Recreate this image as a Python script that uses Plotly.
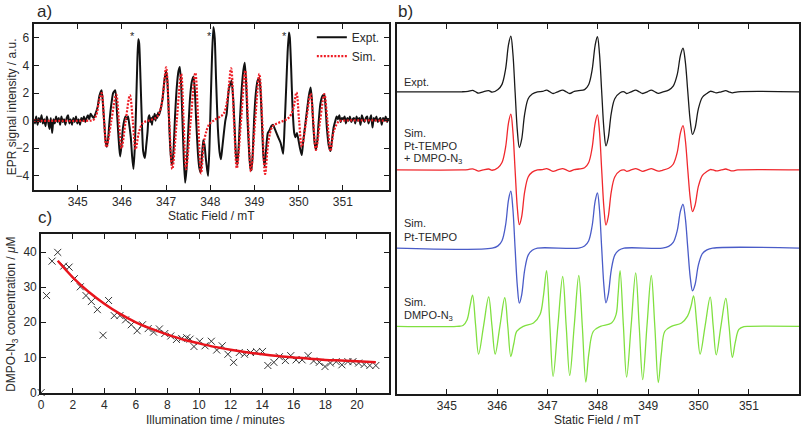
import plotly.graph_objects as go

# ---------------- Panel a: EPR spectrum, experiment vs simulation ----------------
a_expt_field = [
    344.00, 344.03, 344.06, 344.09, 344.12, 344.15, 344.18, 344.21, 344.24, 344.27,
    344.30, 344.33, 344.36, 344.39, 344.42, 344.45, 344.48, 344.51, 344.54, 344.57,
    344.60, 344.63, 344.66, 344.69, 344.72, 344.75, 344.78, 344.81, 344.84, 344.87,
    344.90, 344.93, 344.96, 344.99, 345.02, 345.05, 345.08, 345.11, 345.14, 345.17,
    345.20, 345.23, 345.26, 345.29,
    345.33, 345.36, 345.40, 345.45, 345.49, 345.54, 345.57, 345.60, 345.63, 345.66,
    345.69, 345.72, 345.76, 345.80, 345.85, 345.88, 345.91, 345.94, 345.96, 345.99,
    346.02, 346.05, 346.08, 346.11, 346.14, 346.17, 346.20, 346.23, 346.26, 346.29,
    346.32, 346.35, 346.37, 346.39, 346.42, 346.45, 346.48, 346.52, 346.55, 346.58,
    346.60, 346.62, 346.64, 346.66, 346.68, 346.70, 346.72, 346.74, 346.76, 346.78,
    346.80, 346.82, 346.84, 346.88, 346.92, 346.96, 347.00, 347.03, 347.06, 347.09,
    347.12, 347.14, 347.17, 347.20, 347.24, 347.28, 347.31, 347.34, 347.37, 347.40,
    347.43, 347.46, 347.50, 347.54, 347.58, 347.62, 347.65, 347.68, 347.72, 347.75,
    347.78, 347.81, 347.84, 347.87, 347.90, 347.93, 347.95, 347.98, 348.01, 348.04,
    348.07, 348.10, 348.13, 348.17, 348.21, 348.24, 348.27, 348.31, 348.34, 348.37,
    348.42, 348.48, 348.52, 348.55, 348.58, 348.61, 348.64, 348.67, 348.71, 348.75,
    348.78, 348.81, 348.84, 348.88, 348.91, 348.93, 348.96, 348.99, 349.03, 349.07,
    349.11, 349.14, 349.17, 349.20, 349.23, 349.26, 349.30, 349.34, 349.38, 349.42,
    349.46, 349.51, 349.55, 349.59, 349.62, 349.65, 349.68, 349.72, 349.75, 349.78,
    349.80, 349.83, 349.86, 349.90, 349.93, 349.96, 349.99, 350.03, 350.07, 350.10,
    350.13, 350.16, 350.19, 350.23, 350.27, 350.30, 350.33, 350.36, 350.39, 350.42,
    350.45, 350.49, 350.54, 350.58, 350.61, 350.64, 350.68, 350.72, 350.75, 350.79,
    350.83,
    350.86, 350.89, 350.92, 350.95, 350.98, 351.01, 351.04, 351.07, 351.10, 351.13,
    351.16, 351.19, 351.22, 351.25, 351.28, 351.31, 351.34, 351.37, 351.40, 351.43,
    351.46, 351.49, 351.52, 351.55, 351.58, 351.61, 351.64, 351.67, 351.70, 351.73,
    351.76, 351.79, 351.82, 351.85, 351.88, 351.91, 351.94, 351.97, 352.00, 352.03,
]
a_expt_signal = [
    0.1, -0.2, 0.3, -0.3, 0.2, -0.1, 0.4, -0.2, 0.1, -0.4,
    0.3, -0.1, -0.6, 0.2, -0.9, 0.1, -0.2, 0.3, -0.1, 0.2,
    -0.3, 0.3, -0.1, 0.1, -0.3, 0.2, 0.4, -0.2, 0.1, -0.3,
    0.2, -0.1, 0.3, -0.2, 0.1, -0.3, 0.2, 0.0, 0.3, -0.1,
    0.2, 0.4, 0.1, 0.5,
    0.3, 0.2, 0.5, 1.0, 1.8, 2.2, 1.2, -0.2, -1.5, -1.9,
    -1.2, 0.0, 1.2, 2.0, 2.2, 1.0, -0.6, -2.0, -2.6, -1.8,
    -0.6, 0.0, 0.3, 0.1, 0.3, -0.4, -1.2, -2.6, -3.5, -2.0,
    1.0, 4.5, 5.9, 5.6, 3.0, 0.0, -2.2, -2.7, -1.8, -0.8,
    0.2, 0.4, -0.1, 0.2, -0.3, 0.3, 0.1, 0.5, 0.0, 0.4,
    0.2, 0.6, 0.4, 0.9, 1.6, 2.9, 3.6, 2.8, 0.5, -1.8,
    -3.0, -3.2, -2.0, 0.2, 2.4, 3.6, 3.9, 2.6, 0.0, -2.8,
    -4.5, -3.6, -0.8, 1.6, 2.8, 3.2, 2.2, 0.0, -2.4, -3.4,
    -3.75, -2.6, -1.4, -1.8, -2.8, -3.6, -4.0, -2.0, 1.5, 4.8,
    6.8, 6.0, 3.0, -0.5, -2.3, -2.8, -2.0, -0.8, 0.0, 0.5,
    2.3, 2.9, 1.5, -0.5, -2.5, -3.2, -2.0, 0.0, 2.3, 3.7,
    4.2, 2.8, 0.2, -2.4, -3.5, -3.6, -2.4, 0.0, 2.0, 2.9,
    3.1, 2.0, -0.3, -2.5, -3.3, -2.2, -0.9, -0.7, -0.4, -0.3,
    -0.6, -1.0, -1.3, -1.6, -2.0, -2.4, -0.5, 2.6, 5.0, 6.4,
    6.0, 3.8, 1.0, -0.9, -1.2, -0.9, -1.3, -2.0, -2.5, -1.6,
    -0.8, 0.0, 0.8, 1.8, 2.4, 1.5, -0.3, -1.6, -2.1, -1.5,
    -0.2, 1.2, 1.8, 1.9, 0.9, -0.6, -1.8, -2.2, -1.5, -0.5,
    0.0,
    0.3, 0.1, 0.4, -0.1, 0.2, 0.1, 0.3, -0.2, 0.2, 0.0,
    0.3, -0.1, 0.1, 0.2, -0.2, 0.3, 0.0, 0.2, -0.3, 0.4,
    0.1, -0.1, 0.2, 0.3, -0.2, 0.1, 0.4, -0.5, 0.2, 0.0,
    0.3, -0.1, 0.1, 0.2, -0.3, 0.2, 0.0, 0.3, -0.1, 0.2,
]

# simulation: peak / zero-crossing / trough
a_sim_field = [
    344.00, 345.25, 345.35, 345.42, 345.48, 345.54, 345.595, 345.65, 345.76, 345.87,
    345.93, 345.99, 346.085, 346.18, 346.245, 346.31, 346.38, 346.47, 346.60, 346.72,
    346.80, 346.88, 346.94, 347.00, 347.07, 347.14, 347.24, 347.34, 347.395, 347.45,
    347.555, 347.66, 347.725, 347.79, 347.87, 347.98, 348.10, 348.20, 348.30, 348.38,
    348.47, 348.535, 348.60, 348.695, 348.79, 348.855, 348.92, 349.015, 349.11, 349.175,
    349.24, 349.32, 349.41, 349.55, 349.70, 349.80, 349.88, 349.95, 350.01, 350.07,
    350.17, 350.27, 350.33, 350.39, 350.485, 350.58, 350.65, 350.72, 350.80, 350.91,
    351.00, 352.05,
]
a_sim_signal = [
    0.0, 0.0, 0.05, 0.4, 1.4, 2.0, 0.0, -1.92, 0.0, 1.89,
    0.0, -2.01, 0.0, 1.85, 0.0, -2.08, -0.9, -0.18, 0.0, 0.12,
    0.3, 0.9, 2.2, 3.87, 0.0, -3.51, 0.0, 3.39, 0.0, -3.51,
    0.0, 3.46, 0.0, -3.82, -1.3, -0.25, 0.05, 0.25, 0.5, 1.4,
    3.8, 0.0, -3.44, 0.0, 3.63, 0.0, -3.68, 0.0, 3.39, 0.0,
    -3.87, -1.4, -0.42, -0.15, 0.05, 0.3, 0.9, 2.04, 0.0, -1.89,
    0.0, 1.96, 0.0, -2.13, 0.0, 1.92, 0.0, -2.2, -0.7, -0.05,
    0.0, 0.0,
]

a_star_field = [346.25, 347.98, 349.67]
a_star_signal = [6.15, 6.15, 6.15]
a_xticks = [345, 346, 347, 348, 349, 350, 351]
a_yticks = [-4, -2, 0, 2, 4, 6]

# ---------------- Panel b: stacked spectra ----------------
b_names = ["Expt.", "Sim. Pt-TEMPO + DMPO-N3", "Sim. Pt-TEMPO", "Sim. DMPO-N3"]
b_baselines = [0, -10, -20, -30]

b_expt_field = [
    344.00, 345.30, 345.42, 345.51, 345.57, 345.63, 345.72, 345.83,
    345.90, 346.015, 346.095, 346.165, 346.225, 346.27, 346.31, 346.355, 346.40, 346.44,
    346.485, 346.545, 346.615, 346.695, 346.80,
    346.90, 346.98, 347.045, 347.11, 347.20, 347.30, 347.37, 347.44, 347.53,
    347.62, 347.735, 347.815, 347.885, 347.945, 347.99, 348.03, 348.075, 348.12, 348.16,
    348.205, 348.265, 348.335, 348.44, 348.52, 348.57, 348.66, 348.75, 348.82, 348.89,
    348.98, 349.06, 349.13, 349.20,
    349.28, 349.405, 349.495, 349.575, 349.64, 349.69, 349.735, 349.785, 349.835, 349.88,
    349.93, 349.995, 350.075, 350.165, 350.23, 350.29, 350.35, 350.45, 350.54, 350.60,
    350.67, 350.78, 352.00,
]
b_expt_signal = [
    0.0, 0.0, 0.05, 0.18, 0.0, -0.18, 0.0, 0.15,
    -0.05, 0.29, 0.95, 2.85, 6.05, 7.13, 5.0, 0.0, -5.0, -7.13,
    -6.1, -2.85, -0.9, -0.28, 0.0,
    0.05, 0.22, 0.0, -0.22, 0.0, 0.22, 0.0, -0.22, 0.05,
    0.15, 0.28, 0.9, 2.8, 5.95, 7.04, 4.95, 0.0, -4.85, -6.92,
    -5.9, -2.75, -0.9, -0.12, 0.0, -0.22, 0.0, 0.22, 0.0, -0.22,
    0.0, 0.22, 0.0, -0.2,
    -0.05, 0.22, 0.72, 2.2, 4.7, 5.57, 3.9, 0.0, -3.8, -5.46,
    -4.64, -2.18, -0.7, -0.22, 0.06, 0.0, -0.14, 0.0, 0.14, 0.0,
    -0.14, 0.0, 0.0,
]

b_sum_field = list(b_expt_field)
b_sum_signal = [
    0.0, 0.0, 0.04, 0.14, 0.0, -0.14, 0.0, 0.12,
    -0.04, 0.29, 0.95, 2.85, 6.05, 7.13, 5.0, 0.0, -4.9, -7.0,
    -6.0, -2.8, -0.9, -0.28, 0.0,
    0.04, 0.17, 0.0, -0.17, 0.0, 0.17, 0.0, -0.17, 0.04,
    0.12, 0.28, 0.92, 2.83, 6.0, 7.04, 5.0, 0.0, -4.9, -7.04,
    -6.0, -2.8, -0.9, -0.1, 0.0, -0.17, 0.0, 0.17, 0.0, -0.17,
    0.0, 0.17, 0.0, -0.16,
    -0.04, 0.22, 0.73, 2.24, 4.77, 5.66, 3.9, 0.0, -3.7, -5.32,
    -4.5, -2.1, -0.68, -0.2, 0.05, 0.0, -0.12, 0.0, 0.12, 0.0,
    -0.12, 0.0, 0.0,
]

b_tempo_field = [
    344.00, 345.90, 346.015, 346.095, 346.165, 346.225, 346.27, 346.31, 346.355, 346.40,
    346.44, 346.485, 346.545, 346.615, 346.695, 346.80,
    347.62, 347.735, 347.815, 347.885, 347.945, 347.99, 348.03, 348.075, 348.12, 348.16,
    348.205, 348.265, 348.335, 348.415, 348.52,
    349.28, 349.405, 349.495, 349.575, 349.64, 349.69, 349.735, 349.785, 349.835, 349.88,
    349.93, 349.995, 350.075, 350.165, 350.28, 352.00,
]
b_tempo_signal = [
    0.0, 0.0, 0.29, 0.95, 2.9, 6.2, 7.3, 5.1, 0.0, -4.9,
    -7.04, -6.0, -2.8, -0.9, -0.28, 0.0,
    0.0, 0.28, 0.92, 2.83, 6.0, 7.08, 5.0, 0.0, -4.9, -7.0,
    -5.95, -2.8, -0.9, -0.28, 0.0,
    0.0, 0.22, 0.73, 2.24, 4.77, 5.61, 3.9, 0.0, -3.8, -5.46,
    -4.64, -2.18, -0.7, -0.22, 0.0, 0.0,
]

b_dmpo_field = [
    344.00, 345.20, 345.32, 345.40, 345.46, 345.51, 345.57, 345.63, 345.73, 345.83,
    345.895, 345.96, 346.055, 346.15, 346.21, 346.27, 346.33, 346.39, 346.52, 346.72,
    346.85, 346.92, 346.98, 347.045, 347.11, 347.205, 347.30, 347.37, 347.44, 347.53,
    347.62, 347.69, 347.76, 347.82, 347.91, 348.05, 348.27, 348.36, 348.40, 348.44,
    348.505, 348.57, 348.66, 348.75, 348.82, 348.89, 348.975, 349.06, 349.13, 349.20,
    349.26, 349.33, 349.46, 349.66, 349.78, 349.85, 349.90, 349.965, 350.03, 350.13,
    350.23, 350.29, 350.35, 350.445, 350.54, 350.605, 350.67, 350.73, 350.80, 350.90,
    351.00, 352.00,
]
b_dmpo_signal = [
    0.0, 0.0, 0.1, 0.8, 2.6, 3.98, 0.2, -3.56, 0.1, 3.77,
    0.1, -3.56, 0.1, 3.65, 0.0, -3.86, -2.2, -0.63, 0.0, 0.42,
    1.5, 4.0, 7.13, 0.2, -6.41, 0.1, 6.37, 0.0, -6.29, 0.1,
    6.5, 0.0, -7.13, -3.5, -0.63, 0.0, 0.42, 1.5, 4.0, 7.13,
    0.2, -6.5, 0.1, 6.83, 0.0, -6.83, 0.1, 6.5, 0.0, -7.2,
    -3.5, -0.63, 0.0, 0.42, 1.3, 2.6, 3.9, 0.2, -3.56, 0.1,
    3.73, 0.0, -3.65, 0.1, 3.56, 0.0, -3.98, -2.0, -0.4, -0.05,
    0.0, 0.0,
]
b_xticks = [345, 346, 347, 348, 349, 350, 351]

# ---------------- Panel c: concentration decay ----------------
c_time = [
    0.0, 0.34, 0.69, 1.05, 1.43, 1.77, 2.10, 2.48, 2.84, 3.18,
    3.56, 3.92, 4.27, 4.63, 4.99, 5.35, 5.71, 6.08, 6.42, 6.78,
    7.12, 7.49, 7.83, 8.21, 8.57, 8.90, 9.22, 9.43, 9.68, 10.04,
    10.38, 10.78, 11.12, 11.47, 11.83, 12.19, 12.55, 12.88, 13.26, 13.64,
    14.02, 14.36, 14.74, 15.09, 15.47, 15.81, 16.15, 16.53, 16.91, 17.26,
    17.62, 17.98, 18.32, 18.69, 19.05, 19.43, 19.75, 20.11, 20.46, 20.82,
    21.20,
]
c_conc = [
    0.0, 27.6, 37.4, 39.9, 36.0, 35.7, 32.4, 30.1, 27.6, 25.9,
    23.6, 16.3, 26.2, 21.9, 21.9, 20.7, 19.3, 17.6, 19.3, 18.2,
    17.2, 18.1, 16.8, 16.1, 15.1, 15.4, 15.6, 15.2, 13.1, 14.6,
    13.3, 14.6, 12.1, 13.3, 10.9, 8.6, 11.4, 10.9, 11.4, 11.6,
    11.7, 7.7, 8.6, 10.2, 9.1, 10.5, 9.3, 9.3, 10.5, 9.0,
    8.6, 7.4, 8.4, 8.8, 7.9, 8.8, 8.8, 8.4, 8.0, 7.7,
    7.7,
]
c_fit_time = [1.05, 2, 3, 4, 5, 6, 7, 8, 9, 10, 11, 12, 13, 14, 15, 16, 17, 18, 19, 20, 21.2]
c_fit_conc = [37.5, 32.8, 28.7, 25.3, 22.4, 20.0, 18.1, 16.5, 15.1, 14.0, 13.0, 12.2, 11.5,
              10.9, 10.4, 10.0, 9.6, 9.3, 9.1, 8.9, 8.6]
c_xticks = [0, 2, 4, 6, 8, 10, 12, 14, 16, 18, 20]
c_yticks = [0, 10, 20, 30, 40]

# ---------------- Styling ----------------
FONT = "Liberation Sans, Arial, sans-serif"
FRAME = "#1a1a1a"
TXT = "#2a2a2a"
W, H = 803, 433

def px_x(p):
    return p / W

def px_y(p):
    return 1 - p / H

def axis_style(**kw):
    d = dict(showline=True, linecolor=FRAME, linewidth=2, mirror="ticks",
             ticks="inside", ticklen=5, tickwidth=1, tickcolor=FRAME,
             showgrid=False, zeroline=False,
             tickfont=dict(family=FONT, size=12, color=TXT))
    d.update(kw)
    return d

fig = go.Figure()

# panel a
fig.add_trace(go.Scatter(x=a_expt_field, y=a_expt_signal, mode="lines", name="Expt.",
                         line=dict(color="#111111", width=2, shape="spline", smoothing=0.5),
                         xaxis="x", yaxis="y"))
fig.add_trace(go.Scatter(x=a_sim_field, y=a_sim_signal, mode="lines", name="Sim.",
                         line=dict(color="#ee1c24", width=2.2, dash="2px,1.5px",
                                   shape="spline", smoothing=1),
                         xaxis="x", yaxis="y"))

# panel b
b_colors = ["#1a1a1a", "#f0282d", "#4a5cc8", "#80e040"]
b_series = [(b_expt_field, b_expt_signal), (b_sum_field, b_sum_signal),
            (b_tempo_field, b_tempo_signal), (b_dmpo_field, b_dmpo_signal)]
for (fx, fy), base, col, nm in zip(b_series, b_baselines, b_colors, b_names):
    fig.add_trace(go.Scatter(x=fx, y=[v + base for v in fy], mode="lines", name=nm,
                             line=dict(color=col, width=1.3, shape="spline", smoothing=1),
                             showlegend=False, xaxis="x2", yaxis="y2"))

# panel c
fig.add_trace(go.Scatter(x=c_time, y=c_conc, mode="markers", showlegend=False,
                         marker=dict(symbol="x-thin", size=7, color="#333",
                                     line=dict(width=1, color="#333")),
                         cliponaxis=False, xaxis="x3", yaxis="y3"))
fig.add_trace(go.Scatter(x=c_fit_time, y=c_fit_conc, mode="lines", showlegend=False,
                         line=dict(color="#e8141c", width=2.5, shape="spline"),
                         xaxis="x3", yaxis="y3"))

fig.update_layout(
    width=W, height=H, margin=dict(l=0, r=0, t=0, b=0),
    paper_bgcolor="white", plot_bgcolor="white",
    font=dict(family=FONT, color=TXT),
    xaxis=axis_style(domain=[px_x(30.7), px_x(387.7)], range=[344, 352.05],
                     tickvals=a_xticks, anchor="y", ticklabelstandoff=0),
    yaxis=axis_style(domain=[px_y(192.7), px_y(24)], range=[-5.0, 7.04],
                     tickvals=a_yticks, anchor="x"),
    xaxis2=axis_style(domain=[px_x(395), px_x(799.3)], range=[344, 352],
                      tickvals=b_xticks, anchor="y2"),
    yaxis2=axis_style(domain=[px_y(400), px_y(24)], range=[-38.6, 8.72],
                      ticks="", showticklabels=False, mirror=True, anchor="x2"),
    xaxis3=axis_style(domain=[px_x(38.3), px_x(387.7)], range=[0, 22.05],
                      tickvals=c_xticks, anchor="y3"),
    yaxis3=axis_style(domain=[px_y(399), px_y(238.3)], range=[0, 45],
                      tickvals=c_yticks, anchor="x3"),
    legend=dict(x=px_x(310), y=px_y(23), xanchor="left", yanchor="top",
                bgcolor="rgba(0,0,0,0)", font=dict(family=FONT, size=12, color=TXT),
                tracegroupgap=0, itemwidth=30),
    showlegend=True,
)

ann = []
def add_text(x, y, text, size=12, angle=0, xanchor="center", xref="paper", yref="paper"):
    ann.append(dict(x=x, y=y, xref=xref, yref=yref, text=text,
                    showarrow=False, textangle=angle, xanchor=xanchor, yanchor="middle",
                    font=dict(family=FONT, size=size, color=TXT)))

def add_px(x, y, text, **kw):
    add_text(px_x(x), px_y(y), text, **kw)

# asterisks marking the Pt-TEMPO lines in panel a (data coordinates)
for fx, fy in zip(a_star_field, a_star_signal):
    add_text(fx, fy, "*", size=11, xref="x", yref="y")

add_px(42, 12, "a)", size=17)
add_px(404, 12, "b)", size=17)
add_px(42, 221, "c)", size=17)
add_px(9, 108, "EPR signal intensity / a.u.", size=12, angle=-90)
add_px(209, 220, "Static Field / mT", size=12)
add_px(597, 427, "Static Field / mT", size=12)
add_px(213, 427, "Illumination time / minutes", size=12)
add_px(9, 319, "DMPO-N<sub>3</sub> concentration / <i>μ</i>M", size=12, angle=-90)
# panel b labels
add_px(400, 83, "Expt.", size=11, xanchor="left")
add_px(400, 135, "Sim.", size=11, xanchor="left")
add_px(400, 148.3, "Pt-TEMPO", size=11, xanchor="left")
add_px(400, 161.7, "+ DMPO-N<sub>3</sub>", size=11, xanchor="left")
add_px(400, 226.7, "Sim.", size=11, xanchor="left")
add_px(400, 240.7, "Pt-TEMPO", size=11, xanchor="left")
add_px(400, 307.3, "Sim.", size=11, xanchor="left")
add_px(400, 320.7, "DMPO-N<sub>3</sub>", size=11, xanchor="left")
fig.update_layout(annotations=ann)

fig.write_html("out.html", config={"displayModeBar": False},
               post_script="document.body.style.margin='0px';")
